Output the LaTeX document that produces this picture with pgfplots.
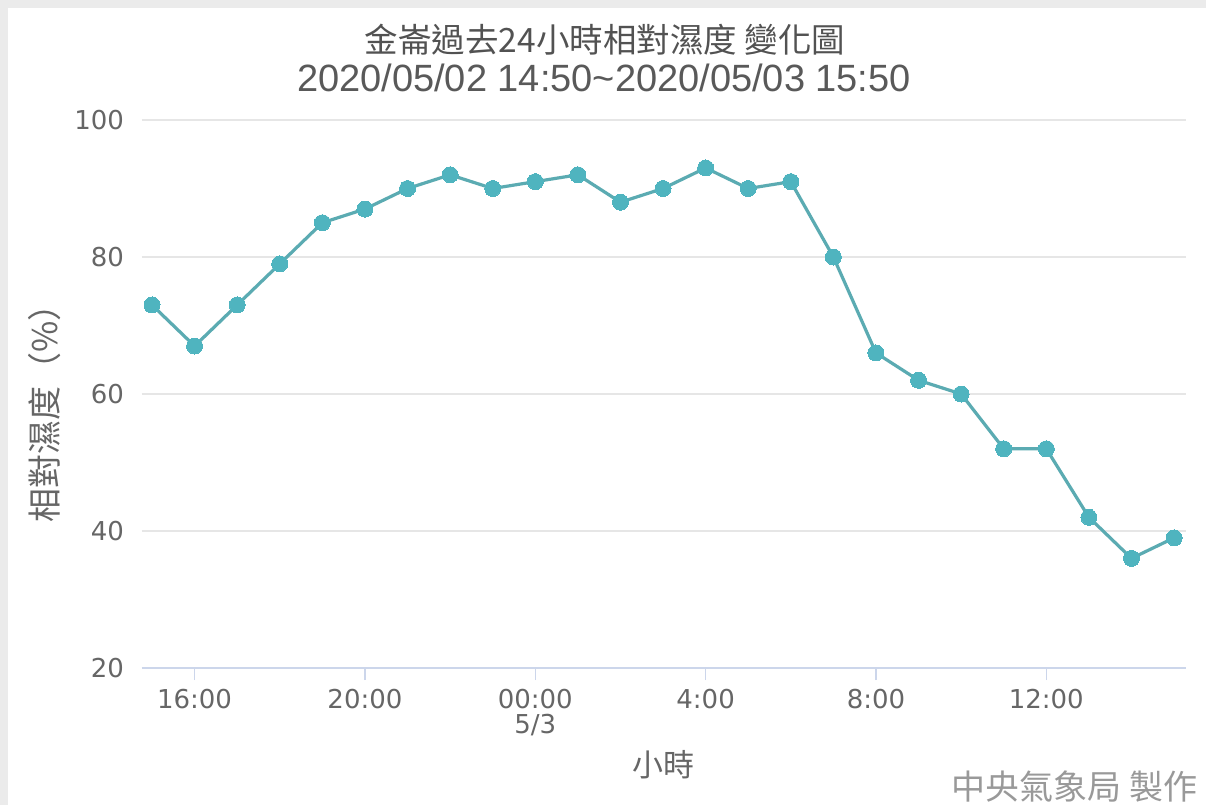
\documentclass[border=0pt]{standalone}
\usepackage{pgfplots}
\pgfplotsset{compat=1.18}
\usepackage{fontspec}
\setmainfont{DejaVu Sans}
\newfontfamily\cjk{Noto Sans CJK TC}
\newfontfamily\lib{Liberation Sans}

\definecolor{linec}{HTML}{5BABB2}
\definecolor{markc}{HTML}{4FB4BF}
\definecolor{gridc}{HTML}{E6E6E6}
\definecolor{axisc}{HTML}{CCD6EB}
\definecolor{labc}{HTML}{666666}
\definecolor{bgc}{HTML}{EBEBEB}

\begin{document}
\begin{tikzpicture}
	% page frame: grey strip on the top and the left
	\useasboundingbox (-71pt,-68.5pt) rectangle (532pt,334pt);
	\fill[bgc] (-71pt,-68.5pt) rectangle (532pt,334pt);
	\fill[white] (-67pt,-68.5pt) rectangle (532pt,330pt);
	\begin{axis}[
		at={(0,0)}, anchor=south west,
		scale only axis,
		width=522pt,
		height=274pt,
		xmin=-0.235, xmax=24.28,
		ymin=20, ymax=100,
		axis x line=bottom,
		axis y line=left,
		x axis line style={draw=axisc, line width=1pt, -},
		y axis line style={draw=none},
		xtick={1,5,9,13,17,21},
		xticklabels={16:00,20:00,{00:00\\5/3},4:00,8:00,12:00},
		ytick={20,40,60,80,100},
		tick align=outside,
		major tick length=6pt,
		xtick style={draw=axisc, line width=0.75pt},
		ytick style={draw=none},
		ymajorgrids,
		major grid style={draw=gridc, line width=0.75pt},
		/pgf/number format/assume math mode=true,
		ticklabel style={font=\fontsize{13}{12.5}\selectfont, text=labc},
		xticklabel style={align=center, yshift=-1pt},
		yticklabel style={xshift=0.5pt},
		clip=false,
	]
		\addplot[linec, line width=1.6pt, mark=*, mark size=4pt,
			mark options={fill=markc, draw=markc, line width=0pt}]
			coordinates {
				(0,73) (1,67) (2,73) (3,79) (4,85) (5,87) (6,90) (7,92)
				(8,90) (9,91) (10,92) (11,88) (12,90) (13,93) (14,90) (15,91)
				(16,80) (17,66) (18,62) (19,60) (20,52) (21,52) (22,42) (23,36)
				(24,39)
			};
	\end{axis}
	% titles and labels
	\node[text=black!68, font=\cjk\fontsize{16.75}{18}\selectfont] at (231.5pt,314pt) {金崙過去24小時相對濕度 變化圖};
	\node[text=black!65, font=\lib\fontsize{19}{20}\selectfont] at (231pt,295pt) {2020/05/02 14:50\textasciitilde2020/05/03 15:50};
	\node[text=labc, rotate=90, font=\cjk\fontsize{17}{19}\selectfont] at (-48.5pt,131.5pt) {相對濕度（\%）};
	\node[text=labc, font=\cjk\fontsize{15.5}{17}\selectfont] at (260.5pt,-48.5pt) {小時};
	\node[text=black!40, anchor=east, inner sep=0pt, font=\cjk\fontsize{17}{18}\selectfont] at (528pt,-59.5pt) {中央氣象局 製作};
\end{tikzpicture}
\end{document}
